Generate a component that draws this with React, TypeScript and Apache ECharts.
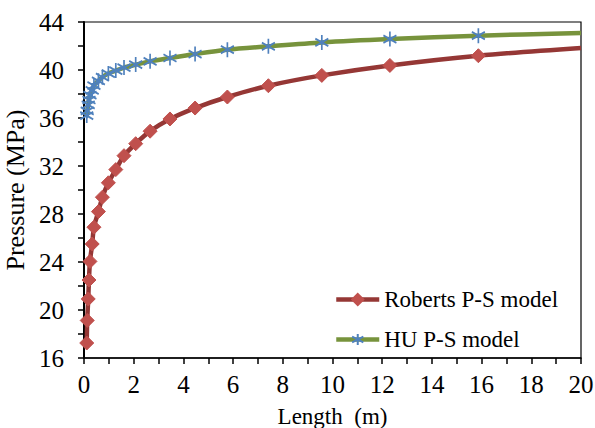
import React, { useEffect, useRef } from "react";
import * as echarts from "echarts";

const lengthX = [0.11, 0.13, 0.17, 0.2, 0.24, 0.33, 0.4, 0.58, 0.74, 0.98, 1.28, 1.61, 2.08, 2.66, 3.46, 4.47, 5.77, 7.42, 9.57, 12.31, 15.87];
const robertsY = [17.25, 19.13, 20.92, 22.5, 24.05, 25.5, 26.9, 28.2, 29.4, 30.6, 31.7, 32.86, 33.86, 34.9, 35.92, 36.83, 37.75, 38.69, 39.55, 40.38, 41.19];
const huY = [36.2, 36.6, 37.1, 37.5, 37.9, 38.3, 38.7, 39.1, 39.4, 39.7, 39.95, 40.2, 40.45, 40.72, 41.0, 41.33, 41.69, 41.97, 42.3, 42.58, 42.86];
const endX = 20;
const robertsEnd = 41.83;
const huEnd = 43.08;

const seriesNames = ["Roberts P-S model", "HU P-S model"];

const FONT = "serif";
const STAR = "path://M10,0L10,20M1.34,5L18.66,15M1.34,15L18.66,5";

export default function App() {
  const ref = useRef<HTMLDivElement>(null);
  useEffect(() => {
    if (!ref.current) return;
    const chart = echarts.init(ref.current, undefined, { renderer: "svg" });
    const build = (ys: number[], end: number) => {
      const d: any[] = lengthX.map((x, i) => [x, ys[i]]);
      d.push({ value: [endX, end], symbol: "none" });
      return d;
    };
    chart.setOption({
      animation: false,
      textStyle: { fontFamily: FONT },
      grid: {
        left: 84, right: 14, top: 22, bottom: 70,
        outerBoundsMode: "none",
        containLabel: false,
        show: true, borderColor: "#000", borderWidth: 1.2,
      },
      legend: {
        orient: "vertical",
        left: 329,
        top: 283,
        itemWidth: 43,
        itemHeight: 14,
        itemGap: 17,
        lineStyle: { width: 4.5 },
        textStyle: { fontFamily: FONT, fontSize: 23, color: "#000" },
        data: seriesNames,
      },
      xAxis: {
        type: "value",
        min: 0, max: 20, interval: 2,
        name: "Length  (m)",
        nameLocation: "middle",
        nameGap: 47,
        nameTextStyle: { fontFamily: FONT, fontSize: 23, color: "#000" },
        axisLine: { show: true, lineStyle: { color: "#000", width: 1.5 } },
        axisTick: { show: true, inside: false, length: 6, lineStyle: { color: "#000", width: 1.5 } },
        minorTick: { show: true, splitNumber: 2, length: 6, lineStyle: { color: "#000", width: 1.5 } },
        axisLabel: { fontFamily: FONT, fontSize: 25, color: "#000", margin: 14 },
        splitLine: { show: false },
      },
      yAxis: {
        type: "value",
        min: 16, max: 44, interval: 4,
        name: "Pressure (MPa)",
        nameLocation: "middle",
        nameGap: 40,
        nameTextStyle: { fontFamily: FONT, fontSize: 26, color: "#000" },
        axisLine: { show: true, lineStyle: { color: "#000", width: 2 } },
        axisTick: { show: true, inside: false, length: 6, lineStyle: { color: "#000", width: 1.5 } },
        minorTick: { show: true, splitNumber: 2, length: 6, lineStyle: { color: "#000", width: 1.5 } },
        axisLabel: { fontFamily: FONT, fontSize: 25, color: "#000", margin: 20 },
        splitLine: { show: false },
      },
      series: [
        {
          name: seriesNames[0],
          type: "line",
          smooth: 0.3,
          data: build(robertsY, robertsEnd),
          lineStyle: { color: "#953735", width: 4.5 },
          symbol: "diamond",
          symbolSize: 14,
          itemStyle: { color: "#C0504D", borderColor: "#C0504D", borderWidth: 1 },
          z: 2,
        },
        {
          name: seriesNames[1],
          type: "line",
          smooth: 0.3,
          data: build(huY, huEnd),
          lineStyle: { color: "#77933C", width: 4.5 },
          symbol: STAR,
          symbolSize: [13, 15],
          itemStyle: { color: "#4F81BD", borderColor: "#4F81BD", borderWidth: 1.8 },
          z: 3,
        },
      ],
    });
    return () => chart.dispose();
  }, []);
  return <div ref={ref} style={{ width: 595, height: 428, position: "absolute", left: 0, top: 0 }} />;
}
